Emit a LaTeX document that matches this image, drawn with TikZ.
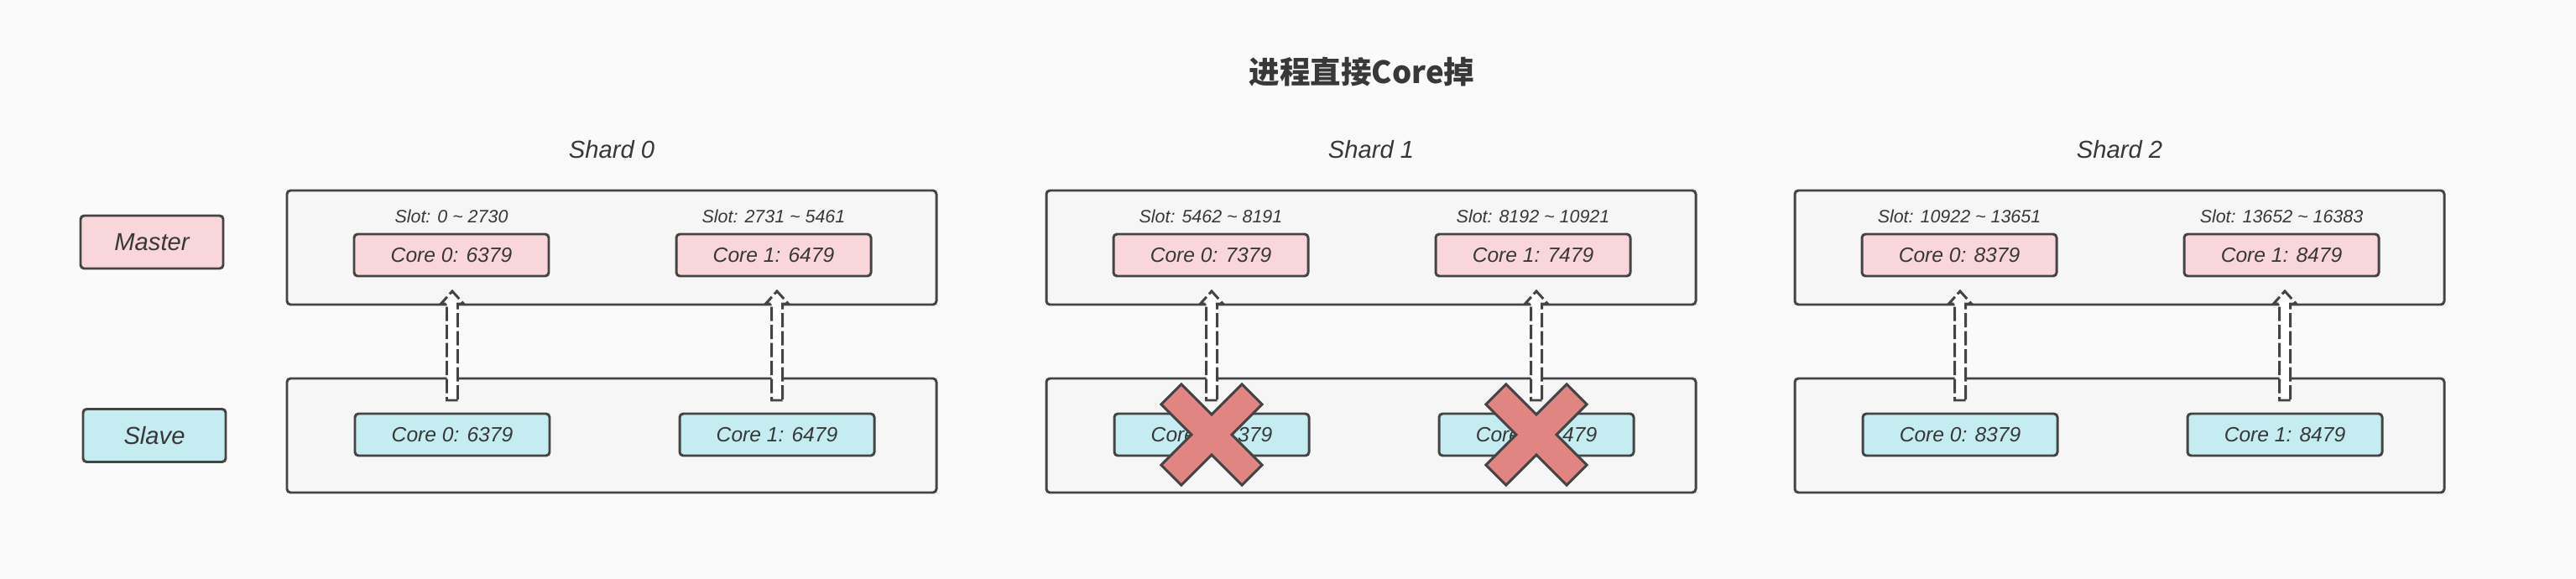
\documentclass[tikz,border=0pt]{standalone}
\usepackage{fontspec}
\setmainfont{Liberation Sans}
\newfontfamily\cjk{Noto Sans CJK SC}
\usetikzlibrary{positioning,calc}

\definecolor{bggray}{HTML}{FAFAFA}
\definecolor{boxgray}{HTML}{F6F6F6}
\definecolor{linegray}{HTML}{444444}
\definecolor{textgray}{HTML}{383838}
\definecolor{masterpink}{HTML}{F9D6DA}
\definecolor{slavecyan}{HTML}{C4ECF1}
\definecolor{crossred}{HTML}{E08582}

\begin{document}
\begin{tikzpicture}
  \fill [bggray] (0,0) rectangle (30.70,-6.90);
  \useasboundingbox (0,0) rectangle (30.70,-6.90);
  \begin{scope}[
    every node/.style={
      rectangle,
      draw=linegray,
      line width=0.85pt,
      rounded corners=1.2pt,
      text=textgray,
      font=\fontsize{7pt}{8pt}\selectfont\itshape,
      inner sep=0pt,
      outer sep=0pt,
    },
    shardbox/.style={
      fill=boxgray,
      minimum width=7.74cm,
      minimum height=1.36cm,
    },
    masterbox/.style={
      fill=masterpink,
      minimum width=2.32cm,
      minimum height=0.5cm,
    },
    slavebox/.style={
      fill=slavecyan,
      minimum width=2.32cm,
      minimum height=0.5cm,
    },
    legendbox/.style={
      minimum width=1.7cm,
      minimum height=0.63cm,
      font=\fontsize{8.3pt}{10pt}\selectfont\itshape,
    },
    textonly/.style={
      draw=none,
      rounded corners=0pt,
    },
    slotlabel/.style={
      textonly,
      font=\fontsize{6.1pt}{7pt}\selectfont\itshape,
    },
    shardlabel/.style={
      textonly,
      font=\fontsize{8.3pt}{10pt}\selectfont\itshape,
    },
    ]
    % Title
    \node [textonly,font=\cjk\bfseries\fontsize{10.4pt}{12pt}\selectfont] (title) at (16.23,-0.86)
    {进程直接Core掉};

    % Legend
    \node [legendbox,fill=masterpink] (Master) at (1.81,-2.885) {Master};
    \node [legendbox,fill=slavecyan] (Slave) at (1.84,-5.19) {Slave};

    % Shard 0
    \node [shardbox] (M0) at (7.29,-2.95) {};
    \node [shardbox,below=0.88cm of M0] (S0) {};
    \node [shardlabel,above=0.38cm of M0] (Shard0) {Shard 0};
    \node [masterbox,below right=0.52cm and 0.80cm of M0.north west] (M0C0) {Core 0: 6379};
    \node [masterbox,right=1.52cm of M0C0] (M0C1) {Core 1: 6479};
    \node [slotlabel,above=0.13cm of M0C0] (L0C0) {Slot: 0 \textasciitilde{} 2730};
    \node [slotlabel,above=0.13cm of M0C1] (L0C1) {Slot: 2731 \textasciitilde{} 5461};
    \node [slavebox,below right=0.42cm and 0.81cm of S0.north west] (S0C0) {Core 0: 6379};
    \node [slavebox,right=1.55cm of S0C0] (S0C1) {Core 1: 6479};

    % Shard 1
    \node [shardbox,right=1.31cm of M0] (M1) {};
    \node [shardbox,below=0.88cm of M1] (S1) {};
    \node [shardlabel,above=0.38cm of M1] (Shard1) {Shard 1};
    \node [masterbox,below right=0.52cm and 0.80cm of M1.north west] (M1C0) {Core 0: 7379};
    \node [masterbox,right=1.52cm of M1C0] (M1C1) {Core 1: 7479};
    \node [slotlabel,above=0.13cm of M1C0] (L1C0) {Slot: 5462 \textasciitilde{} 8191};
    \node [slotlabel,above=0.13cm of M1C1] (L1C1) {Slot: 8192 \textasciitilde{} 10921};
    \node [slavebox,below right=0.42cm and 0.81cm of S1.north west] (S1C0) {Core 0: 7379};
    \node [slavebox,right=1.55cm of S1C0] (S1C1) {Core 1: 7479};

    % Shard 2
    \node [shardbox,right=1.18cm of M1] (M2) {};
    \node [shardbox,below=0.88cm of M2] (S2) {};
    \node [shardlabel,above=0.38cm of M2] (Shard2) {Shard 2};
    \node [masterbox,below right=0.52cm and 0.80cm of M2.north west] (M2C0) {Core 0: 8379};
    \node [masterbox,right=1.52cm of M2C0] (M2C1) {Core 1: 8479};
    \node [slotlabel,above=0.13cm of M2C0] (L2C0) {Slot: 10922 \textasciitilde{} 13651};
    \node [slotlabel,above=0.13cm of M2C1] (L2C1) {Slot: 13652 \textasciitilde{} 16383};
    \node [slavebox,below right=0.42cm and 0.81cm of S2.north west] (S2C0) {Core 0: 8379};
    \node [slavebox,right=1.55cm of S2C0] (S2C1) {Core 1: 8479};
  \end{scope}
  \begin{scope}[
    fatarrow/.style={
      fill=white,
      draw=linegray,
      line width=0.85pt,
      dash pattern=on 0.17cm off 0.045cm,
      to path={
        ($(\tikztostart)+(0.065,0)$) -- ($(\tikztostart)+(-0.065,0)$)
        -- ($(\tikztotarget)+(-0.065,-0.15)$) -- ($(\tikztotarget)+(-0.135,-0.15)$)
        -- (\tikztotarget)
        -- ($(\tikztotarget)+(0.135,-0.15)$) -- ($(\tikztotarget)+(0.065,-0.15)$)
        -- cycle
      },
    },
    crossmark/.style={
      fill=crossred,
      draw=linegray,
      line width=0.85pt,
      line join=miter,
    },
    ]
    % Path Shard 0
    \draw (S0C0.north) ++(0,0.16) coordinate (aS0C0start);
    \draw (S0C0.north |- M0C0.south) ++(0,-0.18) coordinate (aS0C0end);
    \draw [fatarrow] (aS0C0start) to (aS0C0end);
    \draw (S0C1.north) ++(0,0.16) coordinate (aS0C1start);
    \draw (S0C1.north |- M0C1.south) ++(0,-0.18) coordinate (aS0C1end);
    \draw [fatarrow] (aS0C1start) to (aS0C1end);

    % Path Shard 1
    \draw (S1C0.north) ++(0,0.16) coordinate (aS1C0start);
    \draw (S1C0.north |- M1C0.south) ++(0,-0.18) coordinate (aS1C0end);
    \draw [fatarrow] (aS1C0start) to (aS1C0end);
    \draw (S1C1.north) ++(0,0.16) coordinate (aS1C1start);
    \draw (S1C1.north |- M1C1.south) ++(0,-0.18) coordinate (aS1C1end);
    \draw [fatarrow] (aS1C1start) to (aS1C1end);

    % Path Shard 2
    \draw (S2C0.north) ++(0,0.16) coordinate (aS2C0start);
    \draw (S2C0.north |- M2C0.south) ++(0,-0.18) coordinate (aS2C0end);
    \draw [fatarrow] (aS2C0start) to (aS2C0end);
    \draw (S2C1.north) ++(0,0.16) coordinate (aS2C1start);
    \draw (S2C1.north |- M2C1.south) ++(0,-0.18) coordinate (aS2C1end);
    \draw [fatarrow] (aS2C1start) to (aS2C1end);

    % Crossed out slaves
    \draw [crossmark,shift={(S1C0.center)},rotate=45]
      (0.17,0.17) -- (0.68,0.17) -- (0.68,-0.17) -- (0.17,-0.17) -- (0.17,-0.68) -- (-0.17,-0.68)
      -- (-0.17,-0.17) -- (-0.68,-0.17) -- (-0.68,0.17) -- (-0.17,0.17) -- (-0.17,0.68) -- (0.17,0.68) -- cycle;
    \draw [crossmark,shift={(S1C1.center)},rotate=45]
      (0.17,0.17) -- (0.68,0.17) -- (0.68,-0.17) -- (0.17,-0.17) -- (0.17,-0.68) -- (-0.17,-0.68)
      -- (-0.17,-0.17) -- (-0.68,-0.17) -- (-0.68,0.17) -- (-0.17,0.17) -- (-0.17,0.68) -- (0.17,0.68) -- cycle;
  \end{scope}
\end{tikzpicture}
\end{document}
